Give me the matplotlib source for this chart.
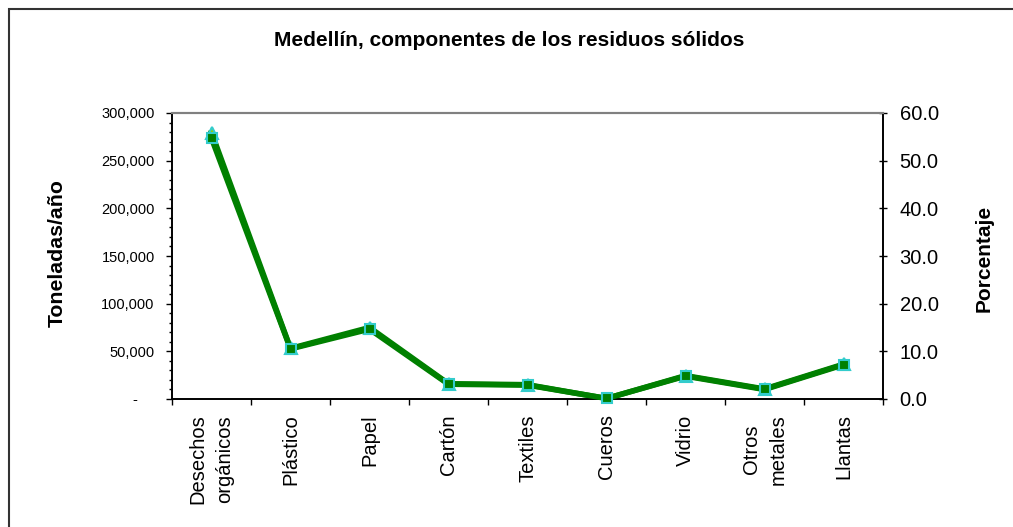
import matplotlib
matplotlib.use("Agg")
import matplotlib.pyplot as plt
from matplotlib.patches import Rectangle
from matplotlib.ticker import FuncFormatter, MultipleLocator, FixedLocator

plt.rcParams['font.family'] = ['Liberation Sans', 'DejaVu Sans']

categorias = ["Desechos\norgánicos", "Plástico", "Papel", "Cartón", "Textiles",
              "Cueros", "Vidrio", "Otros\nmetales", "Llantas"]
toneladas = [273500, 52600, 73300, 15500, 14600, 600, 24000, 10000, 35900]
porcentaje = [55.9, 10.6, 15.0, 3.2, 3.0, 0.1, 4.9, 2.1, 7.3]

fig = plt.figure(figsize=(10.13, 5.27), dpi=100)
ax = fig.add_axes([172/1013, 1 - 399/527, 711/1013, 286/527])
ax2 = ax.twinx()

x = list(range(len(categorias)))

# serie porcentaje (eje derecho)
ax2.plot(x, porcentaje, color="#008000", linewidth=4, marker="^", markersize=8,
         markerfacecolor="#99CC00", markeredgecolor="#33CCCC", markeredgewidth=1.5,
         zorder=2)
# serie toneladas (eje izquierdo)
ax.plot(x, toneladas, color="#008000", linewidth=4, marker="s", markersize=7.5,
        markerfacecolor="#008000", markeredgecolor="#33CCCC", markeredgewidth=1.5,
        zorder=3, clip_on=False)
ax.set_zorder(ax2.get_zorder() + 1)
ax.patch.set_visible(False)

ax.set_xlim(-0.5, len(categorias) - 0.5)
ax.set_ylim(0, 300000)
ax2.set_ylim(0, 60)

def miles(v, pos):
    if v == 0:
        return "-    "
    return f"{v:,.0f}"

ax.yaxis.set_major_locator(MultipleLocator(50000))
ax.yaxis.set_minor_locator(MultipleLocator(10000))
ax.yaxis.set_major_formatter(FuncFormatter(miles))
ax.tick_params(axis="y", which="major", direction="out", length=4.5, width=1,
               labelsize=10.5, pad=8)
ax.tick_params(axis="y", which="minor", direction="out", length=2.2, width=1)

ax2.yaxis.set_major_locator(MultipleLocator(10))
ax2.yaxis.set_major_formatter(FuncFormatter(lambda v, p: f"{v:.1f}"))
ax2.tick_params(axis="y", direction="inout", length=6, width=1, labelsize=14.5, pad=9)

# etiquetas de categorías
ax.xaxis.set_major_locator(FixedLocator([i - 0.5 for i in range(len(categorias) + 1)]))
ax.xaxis.set_major_formatter(FuncFormatter(lambda v, p: ""))
ax.xaxis.set_minor_locator(FixedLocator(x))
ax.set_xticklabels(categorias, minor=True, rotation=90, fontsize=14.5,
                   va="top", ha="center", multialignment="center", linespacing=1.5)
ax.tick_params(axis="x", which="major", direction="out", length=4.5, width=1)
ax.tick_params(axis="x", which="minor", length=0, pad=11)

for a in (ax, ax2):
    a.spines["top"].set_color("#808080")
    a.spines["top"].set_linewidth(1.5)
    a.spines["left"].set_linewidth(1.2)
    a.spines["right"].set_linewidth(1.2)
    a.spines["bottom"].set_linewidth(1.2)

fig.text(509/1013, 1 - 41/527, "Medellín, componentes de los residuos sólidos",
         ha="center", va="center", fontsize=15, fontweight="bold")
fig.text(57/1013, 1 - 253/527, "Toneladas/año", rotation=90, ha="center", va="center",
         fontsize=15.3, fontweight="bold")
fig.text(984/1013, 1 - 258/527, "Porcentaje", rotation=90, ha="center", va="center",
         fontsize=15, fontweight="bold")

fig.patches.append(Rectangle((9/1013, -0.1), 1.2, 1.1 - 9/527,
                             transform=fig.transFigure, fill=False,
                             edgecolor="#333333", linewidth=1.5))

fig.savefig("out.png", dpi=100)
